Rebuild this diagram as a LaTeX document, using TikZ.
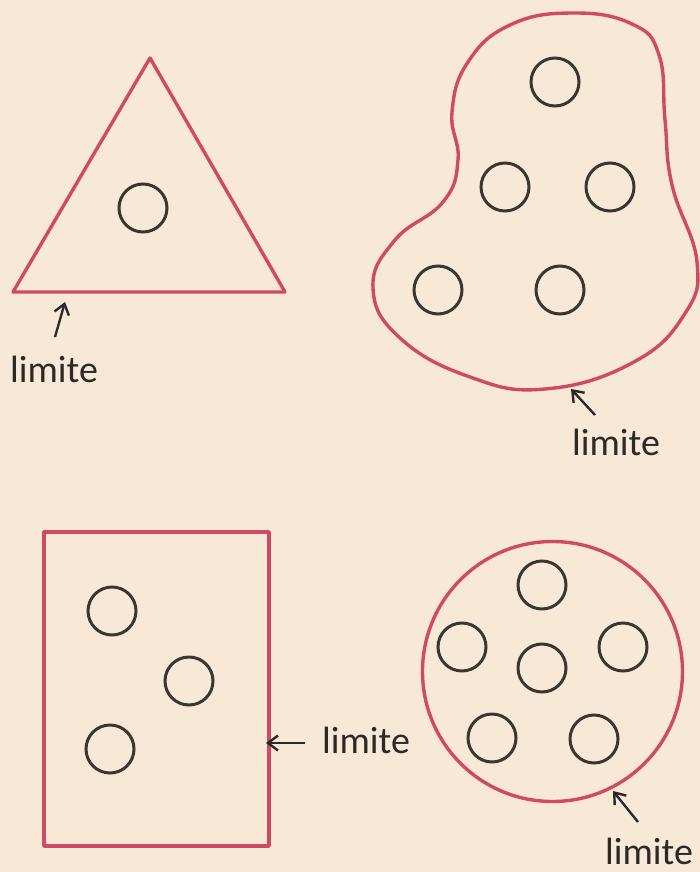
\documentclass[tikz,border=0pt]{standalone}
\usepackage{fontspec}
\setmainfont{Carlito}
\usetikzlibrary{arrows.meta}
\definecolor{paper}{HTML}{F7E9D6}
\definecolor{limred}{HTML}{D04A63}
\definecolor{ink}{HTML}{3A3630}
\definecolor{txt}{HTML}{2A2A2A}
\begin{document}
\begin{tikzpicture}[x=1pt,y=-1pt,
  boundary/.style={draw=limred,line width=3.4pt,line join=round},
  elem/.style={circle,draw=ink,line width=3pt,minimum size=48pt,inner sep=0pt},
  lbl/.style={anchor=base west,inner sep=0pt,text=txt,font=\fontsize{38}{40}\selectfont},
  pointer/.style={draw=txt,line width=2.4pt,-{Straight Barb[length=10pt,width=15pt,line width=2.4pt]}}]
\fill[paper] (0,0) rectangle (700,872);
\useasboundingbox (0,0) rectangle (700,872);

% triangle
\draw[boundary] (150,58) -- (13,292) -- (285,292) -- cycle;
\node[elem] (t1) at (143,208) {};
\node[lbl] (tl) at (10,382) {limite};
\coordinate (ta0) at (55,337);
\coordinate (ta1) at (65,302);
\draw[pointer] (ta0) -- (ta1);

% blob
\draw[boundary] plot[smooth cycle,tension=0.75] coordinates {
(572,13) (632,24) (659,55) (665,120) (672,185) (697,262) (684,315)
(632,363) (545,389) (470,377) (400,338) (373,288) (395,240) (443,202)
(458,160) (452,112) (468,62) (510,25)};
\node[elem] (b1) at (555,82) {};
\node[elem] (b2) at (505,187) {};
\node[elem] (b3) at (610,187) {};
\node[elem] (b4) at (438,290) {};
\node[elem] (b5) at (560,290) {};
\node[lbl] (bl) at (572,455) {limite};
\coordinate (ba0) at (595,415);
\coordinate (ba1) at (571,389);
\draw[pointer] (ba0) -- (ba1);

% rectangle
\draw[boundary] (44,532) rectangle (269,846);
\node[elem] (r1) at (112,611) {};
\node[elem] (r2) at (189,681) {};
\node[elem] (r3) at (110,749) {};
\node[lbl] (rl) at (322,753) {limite};
\coordinate (ra0) at (305,743);
\coordinate (ra1) at (266,743);
\draw[pointer] (ra0) -- (ra1);

% circle
\draw[boundary] (552.5,671.5) circle[radius=130];
\node[elem] (c1) at (542,585) {};
\node[elem] (c2) at (462,647) {};
\node[elem] (c3) at (542,668) {};
\node[elem] (c4) at (623,647) {};
\node[elem] (c5) at (492,738) {};
\node[elem] (c6) at (594,739) {};
\node[lbl] (cl) at (605,864) {limite};
\coordinate (ca0) at (638,822);
\coordinate (ca1) at (613,791);
\draw[pointer] (ca0) -- (ca1);
\end{tikzpicture}
\end{document}
